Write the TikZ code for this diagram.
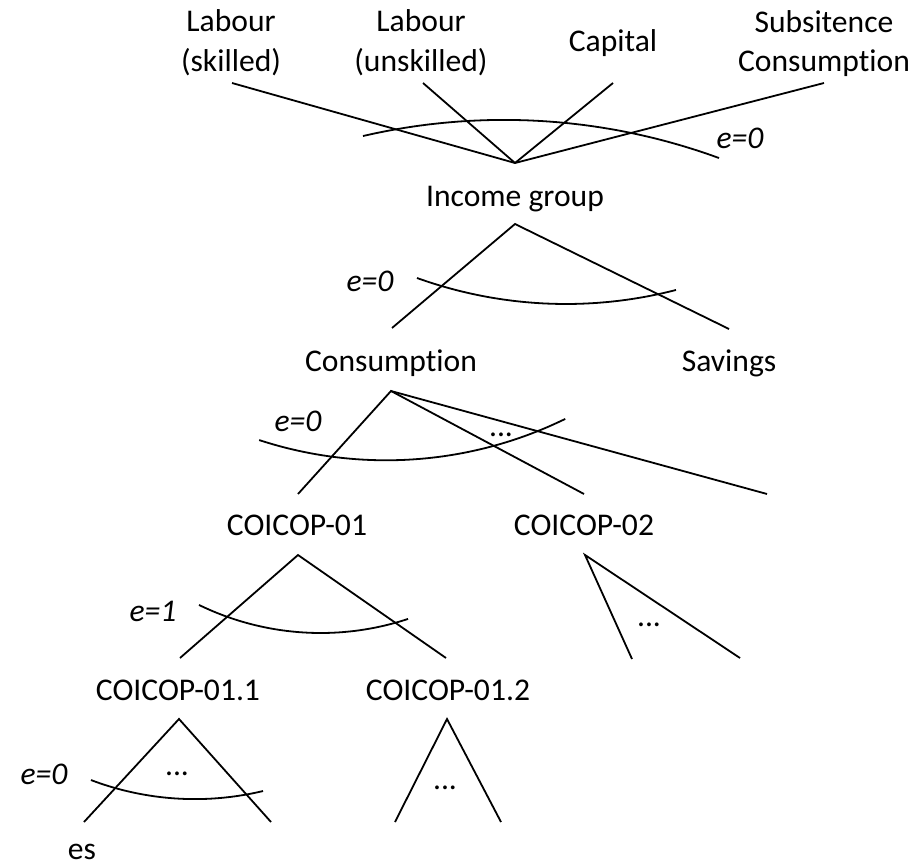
\documentclass[tikz,border=0pt]{standalone}
\usepackage{fontspec}
\setmainfont{Carlito}[Ligatures=NoCommon]
\begin{document}
\begin{tikzpicture}[x=1pt,y=-1pt,
  lbl/.style={inner sep=0pt, anchor=base, font=\fontsize{31.6}{38}\selectfont},
  elbl/.style={inner sep=0pt, anchor=base, font=\fontsize{31.6}{38}\selectfont\itshape},
  treeline/.style={line width=1.8pt, line join=miter},
  elast/.style={line width=1.8pt}]
\useasboundingbox (0,0) rectangle (917,866);

% ---------- labels ----------
\node[lbl] (ls1) at (231,32) {Labour};
\node[lbl] (ls2) at (231,72) {(skilled)};
\node[lbl] (lu1) at (421,32) {Labour};
\node[lbl] (lu2) at (421,72) {(unskilled)};
\node[lbl] (cap) at (613,52) {Capital};
\node[lbl] (sub1) at (824,33) {Subsitence};
\node[lbl] (sub2) at (824,72) {Consumption};
\node[elbl] (e0a) at (740,149) {e=0};
\node[lbl] (inc) at (515,207) {Income group};
\node[elbl] (e0b) at (370,291) {e=0};
\node[lbl] (cons) at (391,371) {Consumption};
\node[lbl] (sav) at (729,371) {Savings};
\node[elbl] (e0c) at (298,431) {e=0};
\node[lbl] (dotc) at (501,436) {...};
\node[lbl] (c01) at (297,535) {COICOP-01};
\node[lbl] (c02) at (584,535) {COICOP-02};
\node[elbl] (e1) at (153,621) {e=1};
\node[lbl] (dot02) at (649,626) {...};
\node[lbl] (c011) at (178,700) {COICOP-01.1};
\node[lbl] (c012) at (448,700) {COICOP-01.2};
\node[elbl] (e0d) at (44,784) {e=0};
\node[lbl] (dot011) at (177,775) {...};
\node[lbl] (dot012) at (445,789) {...};
\node[lbl] (es) at (82,859) {es};

% ---------- tree coordinates ----------
\coordinate (apexT) at (515,163);
\coordinate (s1) at (232,83);
\coordinate (s2) at (423,83);
\coordinate (s3) at (613,83);
\coordinate (s4) at (824,83);

\coordinate (apexI) at (515,224);
\coordinate (iL) at (392,328);
\coordinate (iR) at (729,329);

\coordinate (apexC) at (391,391);
\coordinate (cL) at (298,494);
\coordinate (cM) at (584,494);
\coordinate (cR) at (767,494);

\coordinate (apex1) at (298,555);
\coordinate (l1L) at (180,658);
\coordinate (l1R) at (446,658);

\coordinate (apex2) at (585,555);
\coordinate (l2L) at (632,659);
\coordinate (l2R) at (740,658);

\coordinate (apex11) at (179,719);
\coordinate (l11L) at (84,822);
\coordinate (l11R) at (271,822);

\coordinate (apex12) at (447,719);
\coordinate (l12L) at (395,822);
\coordinate (l12R) at (501,822);

% ---------- tree lines ----------
\draw[treeline] (s1) -- (apexT);
\draw[treeline] (s2) -- (apexT);
\draw[treeline] (s3) -- (apexT);
\draw[treeline] (s4) -- (apexT);

\draw[treeline] (iL) -- (apexI) -- (iR);
\draw[treeline] (cL) -- (apexC) -- (cM);
\draw[treeline] (apexC) -- (cR);
\draw[treeline] (l1L) -- (apex1) -- (l1R);
\draw[treeline] (l2L) -- (apex2) -- (l2R);
\draw[treeline] (l11L) -- (apex11) -- (l11R);
\draw[treeline] (l12L) -- (apex12) -- (l12R);

% ---------- elasticity arcs ----------
\draw[elast] plot[domain=-103.03:-69.9, samples=60, smooth] ({504+625.6*cos(\x)},{745.5+625.6*sin(\x)});
\draw[elast] plot[domain=75.5:109.8, samples=60, smooth] ({565.9+439.6*cos(\x)},{-135.6+439.6*sin(\x)});
\draw[elast] plot[domain=64:108.1, samples=60, smooth] ({386.1+408.6*cos(\x)},{51.7+408.6*sin(\x)});
\draw[elast] plot[domain=71.7:115.95, samples=60, smooth] ({320.7+278.1*cos(\x)},{354.9+278.1*sin(\x)});
\draw[elast] plot[domain=76.5:110.8, samples=60, smooth] ({194.8+292.4*cos(\x)},{506.7+292.4*sin(\x)});
\end{tikzpicture}
\end{document}
